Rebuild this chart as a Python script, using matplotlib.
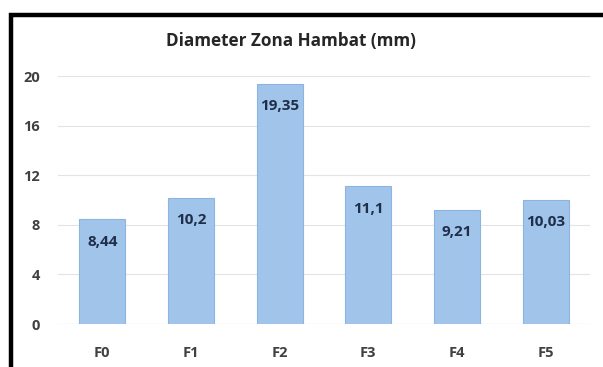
import matplotlib
matplotlib.use("Agg")
import matplotlib.pyplot as plt
from matplotlib.patches import Rectangle

categories = ["F0", "F1", "F2", "F3", "F4", "F5"]
values = [8.44, 10.2, 19.35, 11.1, 9.21, 10.03]
value_labels = ["8,44", "10,2", "19,35", "11,1", "9,21", "10,03"]
yticks = [0, 4, 8, 12, 16, 20]
title = "Diameter Zona Hambat (mm)"

plt.rcParams['font.family'] = ['Open Sans', 'DejaVu Sans']

W, H = 603, 367
fig = plt.figure(figsize=(W / 100, H / 100), dpi=100)
ax = fig.add_axes([58 / W, 1 - 324 / H, 532 / W, 248 / H])

x = list(range(len(categories)))
ax.bar(x, values, width=0.52, color="#a1c4eb", edgecolor="#8db3df", linewidth=0.8, zorder=3)
for xi, v, lab in zip(x, values, value_labels):
    ax.annotate(lab, (xi, v), xytext=(0, -16), textcoords="offset points",
                ha="center", va="center", fontsize=11, fontweight="bold", color="#1f2f4a", zorder=4)

ax.set_xlim(-0.5, len(categories) - 0.5)
ax.set_ylim(0, 20)
ax.set_yticks(yticks)
ax.set_yticklabels([str(t) for t in yticks], fontsize=10.5, fontweight="bold", color="#404040")
ax.set_xticks(x)
ax.set_xticklabels(categories, fontsize=10.5, fontweight="bold", color="#404040")
ax.tick_params(axis="both", length=0)
ax.tick_params(axis="y", pad=13)
ax.tick_params(axis="x", pad=16)
ax.grid(axis="y", color="#e3e3e3", linewidth=0.8, zorder=0)
for s in ax.spines.values():
    s.set_visible(False)
ax.axhline(0, color="#d9d9d9", linewidth=0.8, zorder=2)

fig.text(291 / W, 1 - 41 / H, title, ha="center", va="center", fontsize=12.3,
         fontweight="bold", color="#262626")

# outer black frame (left and top visible)
fig.patches.append(Rectangle((10.5 / W, -0.2), 1.2, 1.2 - 14.5 / H, transform=fig.transFigure,
                             fill=False, edgecolor="black", linewidth=3.2, zorder=10))

fig.savefig("out.png", dpi=100)
